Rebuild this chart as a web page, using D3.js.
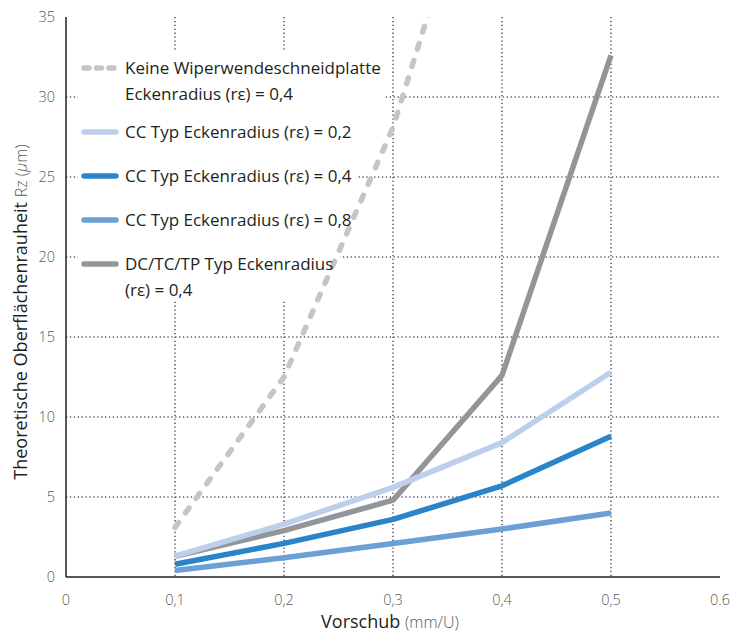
<!DOCTYPE html>
<html>
<head>
<meta charset="utf-8">
<script src="https://cdn.jsdelivr.net/npm/d3@7"></script>
<style>
  body { margin: 0; background: #fff; }
  text { font-family: "Open Sans", sans-serif; }
</style>
</head>
<body>
<script>
// Theoretical surface roughness vs feed

// x values (feed, mm/U)
const feed = [0.1, 0.2, 0.3, 0.4, 0.5];
const feedNoWiper = [0.1, 0.2, 0.3, 0.4];

// series values (Rz in µm)
const noWiper04 = [3.1, 12.5, 28.1, 50];   // runs off the top after 0.3
const cc02 = [1.3, 3.3, 5.6, 8.4, 12.8];
const cc04 = [0.8, 2.1, 3.6, 5.7, 8.8];
const cc08 = [0.4, 1.2, 2.1, 3.0, 4.0];
const dc04 = [1.3, 2.9, 4.8, 12.6, 32.6];

// tick labels
const xTicks = [0, 0.1, 0.2, 0.3, 0.4, 0.5, 0.6];
const xTickLabels = ["0", "0,1", "0,2", "0,3", "0,4", "0,5", "0.6"];
const yTicks = [0, 5, 10, 15, 20, 25, 30, 35];

const legendLabels = [
  ["Keine Wiperwendeschneidplatte", "Eckenradius (r\u03b5) = 0,4"],
  ["CC Typ Eckenradius (r\u03b5) = 0,2"],
  ["CC Typ Eckenradius  (r\u03b5) = 0,4"],
  ["CC Typ Eckenradius  (r\u03b5) = 0,8"],
  ["DC/TC/TP Typ Eckenradius", "(r\u03b5) = 0,4"]
];

const width = 734;
const height = 635;

const svg = d3.select("body")
    .append("svg")
    .attr("width", width)
    .attr("height", height);

const xScale = d3.scaleLinear()
    .domain([0, 0.6])
    .range([66, 720]);

const yScale = d3.scaleLinear()
    .domain([0, 35])
    .range([577, 17]);

const gridColor = "#596070";

// gridlines
svg.append("g")
    .selectAll("line")
    .data(yTicks.filter(d => d > 0 && d < 35))
    .join("line")
    .attr("x1", xScale(0))
    .attr("x2", xScale(0.6))
    .attr("y1", d => yScale(d))
    .attr("y2", d => yScale(d))
    .attr("stroke", gridColor)
    .attr("stroke-width", 1.6)
    .attr("stroke-dasharray", "1.3,2.6");

svg.append("g")
    .selectAll("line")
    .data(feed)
    .join("line")
    .attr("x1", d => xScale(d))
    .attr("x2", d => xScale(d))
    .attr("y1", yScale(35))
    .attr("y2", yScale(0))
    .attr("stroke", gridColor)
    .attr("stroke-width", 1.6)
    .attr("stroke-dasharray", "1.3,2.6");

// legend background (hides grid behind it)
const legendBg = svg.append("g");
legendBg.append("rect")
    .attr("x", 78)
    .attr("y", 52)
    .attr("width", 262)
    .attr("height", 246)
    .attr("fill", "#fff");

// axes
svg.append("line")
    .attr("x1", xScale(0)).attr("x2", xScale(0))
    .attr("y1", yScale(35)).attr("y2", yScale(0))
    .attr("stroke", "#231f20").attr("stroke-width", 1.5);
svg.append("line")
    .attr("x1", xScale(0)).attr("x2", xScale(0.6))
    .attr("y1", yScale(0)).attr("y2", yScale(0))
    .attr("stroke", "#231f20").attr("stroke-width", 1.5);

// tick labels
svg.append("g")
    .selectAll("text")
    .data(xTicks)
    .join("text")
    .attr("x", d => xScale(d))
    .attr("y", 605)
    .attr("text-anchor", "middle")
    .attr("font-size", 14.5)
    .attr("font-weight", 300)
    .attr("fill", "#58595b")
    .text((d, i) => xTickLabels[i]);

svg.append("g")
    .selectAll("text")
    .data(yTicks)
    .join("text")
    .attr("x", 55)
    .attr("y", d => yScale(d) + 5)
    .attr("text-anchor", "end")
    .attr("font-size", 14.5)
    .attr("font-weight", 300)
    .attr("fill", "#58595b")
    .text(d => d);

// axis titles
const xTitle = svg.append("text")
    .attr("x", 390)
    .attr("y", 628)
    .attr("text-anchor", "middle")
    .attr("font-size", 18)
    .attr("fill", "#231f20");
xTitle.append("tspan").text("Vorschub ");
xTitle.append("tspan").attr("font-size", 16).attr("font-weight", 300).attr("fill", "#58595b").text("(mm/U)");

const yTitle = svg.append("text")
    .attr("transform", "translate(27,312) rotate(-90)")
    .attr("text-anchor", "middle")
    .attr("font-size", 18)
    .attr("fill", "#231f20");
yTitle.append("tspan").text("Theoretische Oberfl\u00e4chenrauheit ");
yTitle.append("tspan").attr("font-size", 16).attr("font-weight", 300).attr("fill", "#58595b").text("Rz (");
yTitle.append("tspan").attr("font-size", 16).attr("font-weight", 300).attr("font-style", "italic").attr("fill", "#58595b").text("\u03bc");
yTitle.append("tspan").attr("font-size", 16).attr("font-weight", 300).attr("fill", "#58595b").text("m)");

const line = d3.line()
    .x(d => xScale(d.x))
    .y(d => yScale(d.y));

const zip = (xs, ys) => xs.map((x, i) => ({x: x, y: ys[i]}));

const series = [
    {values: zip(feedNoWiper, noWiper04), color: "#c4c5c7", dash: "6,12"},
    {values: zip(feed, cc02), color: "#bccfeb"},
    {values: zip(feed, cc04), color: "#2a84c9"},
    {values: zip(feed, cc08), color: "#6ba0d7"},
    {values: zip(feed, dc04), color: "#939598"}
];

// legend texts first (bg rects go under the data lines)
const legendY = [68, 132, 176, 220, 264];
const legend = svg.append("g");
const lineLayer = svg.append("g");
const legendFront = svg.append("g");

legendLabels.forEach((lines, i) => {
    const s = series[i];
    const bg = legendBg.append("rect").attr("fill", "#fff");
    legendFront.append("line")
        .attr("x1", 84).attr("x2", 116)
        .attr("y1", legendY[i]).attr("y2", legendY[i])
        .attr("stroke", s.color)
        .attr("stroke-width", 5.5)
        .attr("stroke-linecap", "round")
        .attr("stroke-dasharray", s.dash ? "5,7.5" : null);
    const t = legendFront.append("text")
        .attr("x", 125)
        .attr("y", legendY[i] + 6)
        .attr("font-size", 17)
        .attr("fill", "#231f20");
    lines.forEach((l, j) => {
        t.append("tspan")
            .attr("x", 125)
            .attr("dy", j === 0 ? 0 : 26)
            .text(l);
    });
    const b = t.node().getBBox();
    bg.attr("x", b.x - 2).attr("y", b.y).attr("width", b.width + 6).attr("height", b.height);
});

// lines
svg.append("defs").append("clipPath").attr("id", "plot")
    .append("rect")
    .attr("x", xScale(0)).attr("y", yScale(35))
    .attr("width", xScale(0.6) - xScale(0))
    .attr("height", yScale(0) - yScale(35));

const plot = lineLayer.attr("clip-path", "url(#plot)");

// draw in stacking order seen in the picture
[3, 2, 4, 1, 0].forEach(i => {
    const s = series[i];
    plot.append("path")
        .datum(s.values)
        .attr("fill", "none")
        .attr("stroke", s.color)
        .attr("stroke-width", 5.5)
        .attr("stroke-linejoin", "round")
        .attr("stroke-linecap", s.dash ? "round" : "butt")
        .attr("stroke-dasharray", s.dash || null)
        .attr("d", line);
});
</script>
</body>
</html>
